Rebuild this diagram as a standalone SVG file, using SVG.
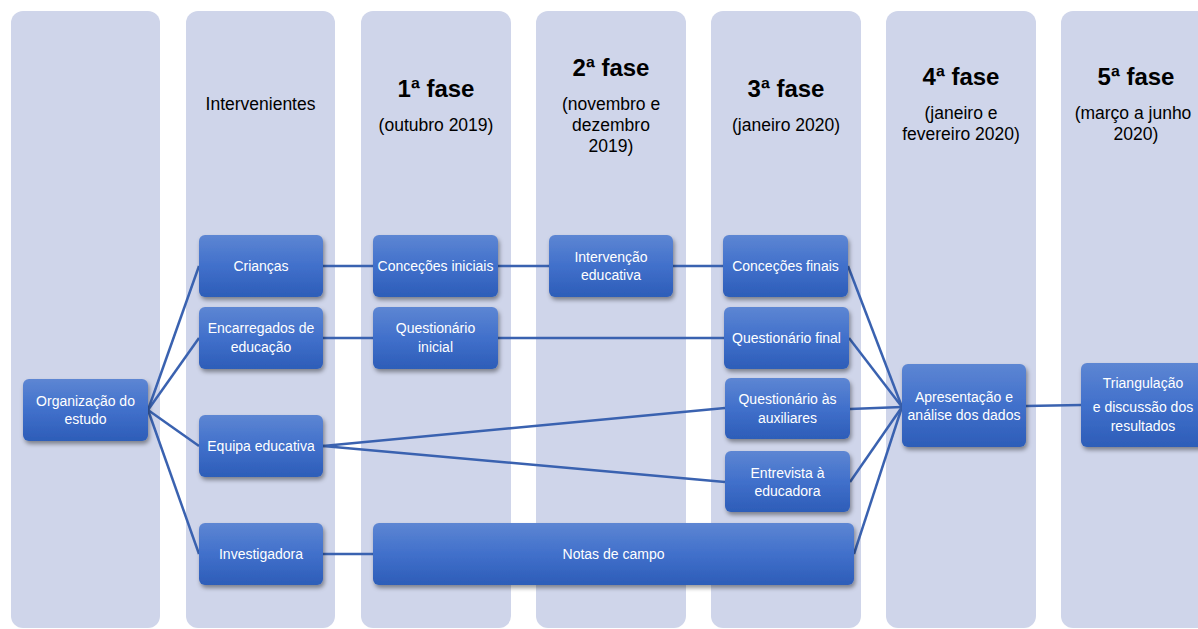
<svg xmlns="http://www.w3.org/2000/svg" width="1198" height="629" viewBox="0 0 1198 629">
<defs>
<linearGradient id="nodeGrad" x1="0" y1="0" x2="0" y2="1">
<stop offset="0" stop-color="#5D86D3"/>
<stop offset="0.5" stop-color="#4170CB"/>
<stop offset="1" stop-color="#2D5DB8"/>
</linearGradient>
<filter id="shadow" x="-20%" y="-20%" width="140%" height="150%">
<feDropShadow dx="1.5" dy="3" stdDeviation="2.2" flood-color="#000" flood-opacity="0.4"/>
</filter>
</defs>
<style>
.col{fill:#CFD5EA;}
.node rect{fill:url(#nodeGrad);filter:url(#shadow);}
.node text{fill:#FFFFFF;font-family:"Liberation Sans",Arial,sans-serif;font-size:14px;text-anchor:middle;}
.hdr{fill:#000;font-family:"Liberation Sans",Arial,sans-serif;text-anchor:middle;}
.t{font-size:24px;font-weight:bold;}
.s{font-size:17.5px;}
.conn line{stroke:#3A62B0;stroke-width:2.5;fill:none;}
</style>
<rect width="1198" height="629" fill="#FFFFFF"/>
<g id="columns">
<rect class="col" x="11" y="11" width="149" height="617" rx="12"/>
<rect class="col" x="186" y="11" width="149" height="617" rx="12"/>
<rect class="col" x="361" y="11" width="150" height="617" rx="12"/>
<rect class="col" x="536" y="11" width="150" height="617" rx="12"/>
<rect class="col" x="711" y="11" width="150" height="617" rx="12"/>
<rect class="col" x="886" y="11" width="150" height="617" rx="12"/>
<rect class="col" x="1061" y="11" width="150" height="617" rx="12"/>
</g>
<g id="headers">
<text class="hdr s" x="260.5" y="110">Intervenientes</text>
<text class="hdr t" x="436" y="97">1ª fase</text>
<text class="hdr s" x="436" y="131">(outubro 2019)</text>
<text class="hdr t" x="611" y="76">2ª fase</text>
<text class="hdr s" x="611" y="110">(novembro e</text>
<text class="hdr s" x="611" y="131">dezembro</text>
<text class="hdr s" x="611" y="152">2019)</text>
<text class="hdr t" x="786" y="97">3ª fase</text>
<text class="hdr s" x="786" y="131">(janeiro 2020)</text>
<text class="hdr t" x="961" y="85">4ª fase</text>
<text class="hdr s" x="961" y="119">(janeiro e</text>
<text class="hdr s" x="961" y="140">fevereiro 2020)</text>
<text class="hdr t" x="1136" y="85">5ª fase</text>
<text class="hdr s" x="1133" y="119">(março a junho</text>
<text class="hdr s" x="1136" y="140">2020)</text>
</g>
<g id="connectors" class="conn">
<line x1="148" y1="410" x2="199" y2="266"/>
<line x1="148" y1="410" x2="199" y2="338"/>
<line x1="148" y1="410" x2="199" y2="446"/>
<line x1="148" y1="410" x2="199" y2="554"/>
<line x1="323" y1="266" x2="373" y2="266"/>
<line x1="498" y1="266" x2="549" y2="266"/>
<line x1="673" y1="266" x2="723" y2="266"/>
<line x1="323" y1="338" x2="373" y2="338"/>
<line x1="498" y1="338" x2="724" y2="338"/>
<line x1="323" y1="446" x2="725" y2="408"/>
<line x1="323" y1="446" x2="725" y2="482"/>
<line x1="323" y1="554" x2="373" y2="554"/>
<line x1="848" y1="266" x2="902" y2="407"/>
<line x1="849" y1="338" x2="902" y2="407"/>
<line x1="850" y1="409" x2="902" y2="407"/>
<line x1="850" y1="482" x2="902" y2="407"/>
<line x1="854" y1="554" x2="902" y2="407"/>
<line x1="1026" y1="406" x2="1081" y2="405"/>
</g>
<g id="n-organizacao" class="node">
<rect x="23" y="379" width="125" height="62" rx="6"/>
<text x="85.5" y="406">Organização do</text>
<text x="85.5" y="424">estudo</text>
</g>
<g id="n-criancas" class="node">
<rect x="199" y="235" width="124" height="62" rx="6"/>
<text x="261" y="271">Crianças</text>
</g>
<g id="n-encarregados" class="node">
<rect x="199" y="307" width="124" height="62" rx="6"/>
<text x="261" y="333">Encarregados de</text>
<text x="261" y="352">educação</text>
</g>
<g id="n-equipa" class="node">
<rect x="199" y="415" width="124" height="62" rx="6"/>
<text x="261" y="451">Equipa educativa</text>
</g>
<g id="n-investigadora" class="node">
<rect x="199" y="523" width="124" height="62" rx="6"/>
<text x="261" y="559">Investigadora</text>
</g>
<g id="n-concecoes-iniciais" class="node">
<rect x="373" y="235" width="125" height="62" rx="6"/>
<text x="435.5" y="271">Conceções iniciais</text>
</g>
<g id="n-questionario-inicial" class="node">
<rect x="373" y="307" width="125" height="62" rx="6"/>
<text x="435.5" y="333">Questionário</text>
<text x="435.5" y="352">inicial</text>
</g>
<g id="n-intervencao" class="node">
<rect x="549" y="235" width="124" height="62" rx="6"/>
<text x="611" y="262">Intervenção</text>
<text x="611" y="280">educativa</text>
</g>
<g id="n-concecoes-finais" class="node">
<rect x="723" y="235" width="125" height="62" rx="6"/>
<text x="785.5" y="271">Conceções finais</text>
</g>
<g id="n-questionario-final" class="node">
<rect x="724" y="307" width="125" height="62" rx="6"/>
<text x="786.5" y="343">Questionário final</text>
</g>
<g id="n-questionario-auxiliares" class="node">
<rect x="725" y="378" width="125" height="61" rx="6"/>
<text x="787.5" y="404">Questionário às</text>
<text x="787.5" y="423">auxiliares</text>
</g>
<g id="n-entrevista" class="node">
<rect x="725" y="451" width="125" height="61" rx="6"/>
<text x="787.5" y="478">Entrevista à</text>
<text x="787.5" y="496">educadora</text>
</g>
<g id="n-notas" class="node">
<rect x="373" y="523" width="481" height="62" rx="6"/>
<text x="613.5" y="559">Notas de campo</text>
</g>
<g id="n-apresentacao" class="node">
<rect x="902" y="364" width="124" height="83" rx="6"/>
<text x="964" y="402">Apresentação e</text>
<text x="964" y="420">análise dos dados</text>
</g>
<g id="n-triangulacao" class="node">
<rect x="1081" y="363" width="124" height="84" rx="6"/>
<text x="1143" y="388">Triangulação</text>
<text x="1143" y="412">e discussão dos</text>
<text x="1143" y="431">resultados</text>
</g>
</svg>
